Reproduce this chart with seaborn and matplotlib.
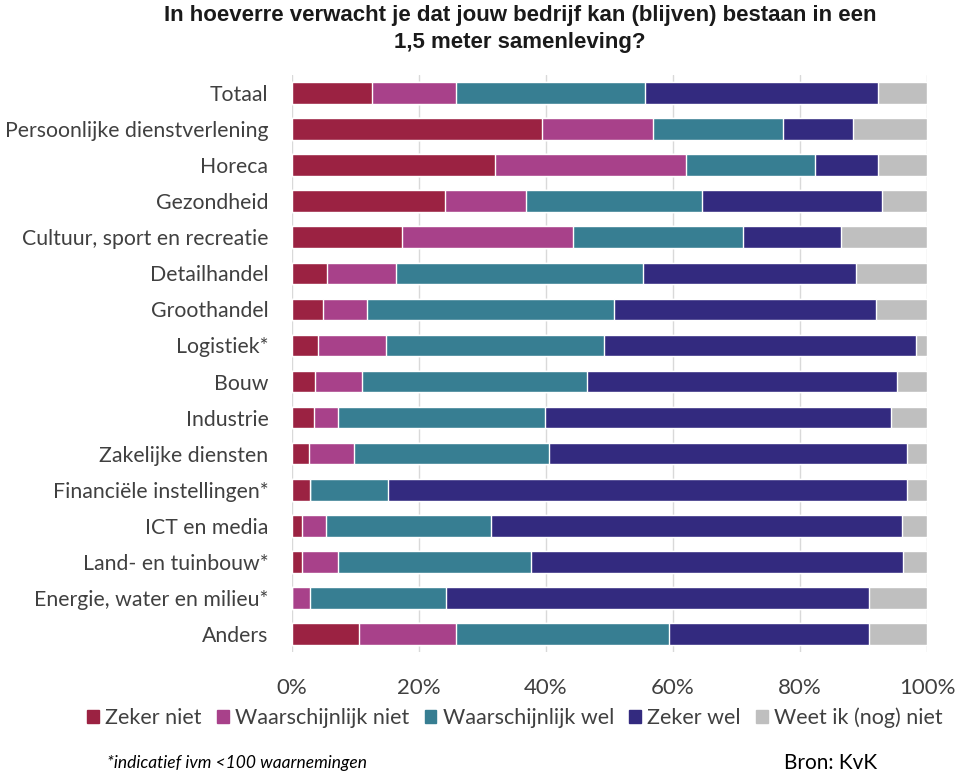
import matplotlib
matplotlib.use("Agg")
import matplotlib.pyplot as plt
import seaborn as sns
import pandas as pd
import numpy as np

# categories, top to bottom
sectors = [
    "Totaal", "Persoonlijke dienstverlening", "Horeca", "Gezondheid",
    "Cultuur, sport en recreatie", "Detailhandel", "Groothandel", "Logistiek*",
    "Bouw", "Industrie", "Zakelijke diensten", "Financiële instellingen*",
    "ICT en media", "Land- en tuinbouw*", "Energie, water en milieu*", "Anders",
]
answers = ["Zeker niet", "Waarschijnlijk niet", "Waarschijnlijk wel",
           "Zeker wel", "Weet ik (nog) niet"]

# shares in %
zeker_niet = [12.6, 39.3, 32.0, 24.1, 17.4, 5.5, 4.9, 4.1, 3.7, 3.4, 2.7, 2.9, 1.6, 1.6, 0.0, 10.5]
waarsch_niet = [13.3, 17.5, 30.1, 12.8, 26.8, 10.8, 6.9, 10.7, 7.3, 3.8, 7.1, 0.0, 3.7, 5.6, 2.9, 15.4]
waarsch_wel = [29.7, 20.5, 20.2, 27.7, 26.8, 38.9, 38.9, 34.4, 35.4, 32.6, 30.6, 12.2, 26.0, 30.4, 21.4, 33.4]
zeker_wel = [36.7, 11.0, 10.0, 28.3, 15.5, 33.6, 41.3, 49.1, 48.9, 54.6, 56.4, 81.7, 64.7, 58.6, 66.5, 31.5]
weet_niet = [7.7, 11.7, 7.7, 7.1, 13.5, 11.2, 8.0, 1.7, 4.7, 5.6, 3.2, 3.2, 4.0, 3.8, 9.2, 9.2]

colors = ["#9b2242", "#a8418a", "#377e92", "#332a7f", "#bfbfbf"]

df = pd.DataFrame({
    "sector": sectors,
    answers[0]: zeker_niet,
    answers[1]: waarsch_niet,
    answers[2]: waarsch_wel,
    answers[3]: zeker_wel,
    answers[4]: weet_niet,
})
cum = df[answers].cumsum(axis=1)
# scale each row so the last segment ends at 100%
cum = cum.div(cum[answers[-1]], axis=0) * 100

sns.set_style("white")
plt.rcParams["font.family"] = ["Lato", "DejaVu Sans"]

fig = plt.figure(figsize=(9.55, 7.73), dpi=100)
ax = fig.add_axes([292 / 955, 1 - 652 / 773, 635 / 955, 577 / 773])

# draw cumulative bars from right to left so every segment shows
for ans, col in reversed(list(zip(answers, colors))):
    sns.barplot(x=cum[ans], y=df["sector"], color=col, orient="h",
                width=0.6, saturation=1, ax=ax, label=ans, zorder=2)

ax.set_xlim(0, 100)
ax.set_ylim(15.5, -0.5)
ax.set_xticks(np.arange(0, 101, 20))
ax.set_xticklabels([f"{v}%" for v in range(0, 101, 20)])
ax.grid(axis="x", color="#d9d9d9", linewidth=1, zorder=0)
ax.set_axisbelow(True)
ax.set_xlabel("")
ax.set_ylabel("")
sns.despine(ax=ax, left=True, bottom=True)
ax.tick_params(axis="both", length=0, colors="#404040")
ax.tick_params(axis="x", labelsize=16, pad=19)
ax.tick_params(axis="y", labelsize=15.3, pad=17)
if ax.get_legend() is not None:
    ax.get_legend().remove()

handles = [plt.Rectangle((0, 0), 1, 1, color=c) for c in colors]
fig.legend(handles, answers, loc="center", bbox_to_anchor=(515 / 955, 1 - 718 / 773),
           ncol=5, frameon=False, fontsize=15.5, handlelength=0.55, handleheight=0.55,
           handletextpad=0.3, columnspacing=0.7, labelcolor="#404040")

fig.text(520 / 955, 1 - 21 / 773,
         "In hoeverre verwacht je dat jouw bedrijf kan (blijven) bestaan in een",
         ha="center", va="baseline", fontsize=16, fontweight="bold",
         family=["Liberation Sans", "DejaVu Sans"], color="#1a1a1a")
fig.text(520 / 955, 1 - 48 / 773, "1,5 meter samenleving?",
         ha="center", va="baseline", fontsize=16, fontweight="bold",
         family=["Liberation Sans", "DejaVu Sans"], color="#1a1a1a")

fig.text(107 / 955, 1 - 763 / 773, "*indicatief ivm <100 waarnemingen",
         ha="left", va="center", fontsize=12.5, style="italic", color="#000000")
fig.text(784 / 955, 1 - 763 / 773, "Bron: KvK",
         ha="left", va="center", fontsize=15, color="#000000")

fig.savefig("out.png", dpi=100)
